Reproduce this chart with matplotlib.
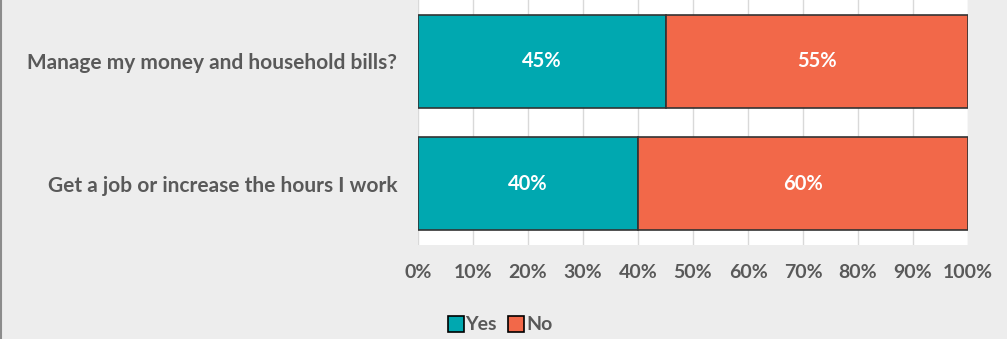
import matplotlib.pyplot as plt
import numpy as np
from matplotlib.lines import Line2D

# survey answers, share of respondents
questions = ['Manage my money and household bills?',
             'Get a job or increase the hours I work']
yes_share = [45, 40]
no_share = [55, 60]
tick_vals = [0, 10, 20, 30, 40, 50, 60, 70, 80, 90, 100]

teal = '#00A8B0'
coral = '#F26849'
text_grey = '#595959'

plt.rcParams['font.family'] = ['Lato', 'DejaVu Sans']
plt.rcParams['font.weight'] = 'bold'

fig = plt.figure(figsize=(10.07, 3.39), dpi=100)
fig.patch.set_facecolor('#EDEDED')
ax = fig.add_axes([418 / 1007, 1 - 245 / 339, 550 / 1007, 245 / 339])
ax.set_facecolor('white')

y = np.arange(len(questions))
yes = np.array(yes_share)
no = np.array(no_share)
h = 0.76
ax.barh(y, yes, height=h, color=teal, edgecolor='#333333', linewidth=1.2,
        label='Yes', zorder=3)
ax.barh(y, no, left=yes, height=h, color=coral, edgecolor='#333333',
        linewidth=1.2, label='No', zorder=3)

for i in range(len(questions)):
    ax.text(yes[i] / 2, y[i], f'{yes[i]}%', color='white', ha='center',
            va='center', fontsize=14.5, fontweight='bold', zorder=4)
    ax.text(yes[i] + no[i] / 2, y[i], f'{no[i]}%', color='white', ha='center',
            va='center', fontsize=14.5, fontweight='bold', zorder=4)

ax.set_xlim(0, 100)
ax.set_ylim(1.5, -0.5)
ax.set_xticks(tick_vals)
ax.set_xticklabels([f'{t}%' for t in tick_vals])
ax.set_yticks(y)
ax.set_yticklabels(questions)
ax.tick_params(axis='both', length=0, labelcolor=text_grey)
ax.tick_params(axis='x', pad=14, labelsize=14)
ax.tick_params(axis='y', pad=15, labelsize=15)
ax.grid(axis='x', color='#D9D9D9', linewidth=1, zorder=0)
for s in ax.spines.values():
    s.set_visible(False)

handles = [Line2D([], [], marker='s', linestyle='none', markersize=11,
                  markerfacecolor=teal, markeredgecolor='black', markeredgewidth=1.2),
           Line2D([], [], marker='s', linestyle='none', markersize=11,
                  markerfacecolor=coral, markeredgecolor='black', markeredgewidth=1.2)]
leg = fig.legend(handles, ['Yes', 'No'], loc='center', ncol=2,
                 bbox_to_anchor=(498 / 1007, 1 - 325 / 339), frameon=False,
                 handletextpad=-0.1, columnspacing=0.4, handlelength=1.2,
                 prop={'size': 14, 'weight': 'bold'})
for t in leg.get_texts():
    t.set_color(text_grey)

# thin frame line down the left edge
fig.add_artist(Line2D([0.001, 0.001], [0, 1], color='#8C8C8C', linewidth=1.5,
                      transform=fig.transFigure))

fig.savefig('out.png', dpi=100, facecolor=fig.get_facecolor())
